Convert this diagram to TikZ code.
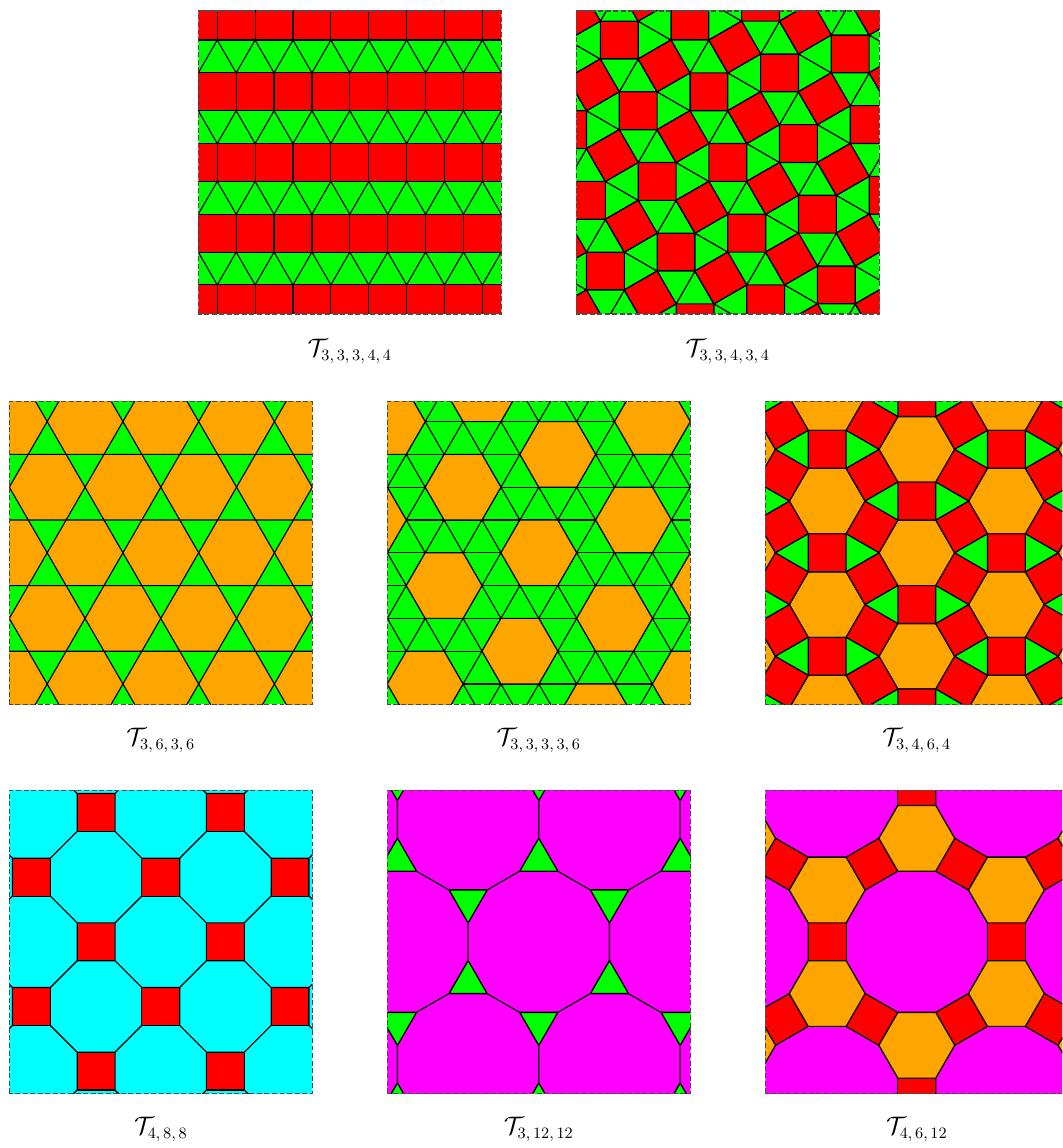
\documentclass[tikz,border=0pt]{standalone}
\usepackage{amsmath}
\definecolor{cred}{HTML}{FF0000}
\definecolor{clime}{HTML}{00FF00}
\definecolor{corange}{HTML}{FFA500}
\definecolor{ccyan}{HTML}{00FFFF}
\definecolor{cmag}{HTML}{FF00FF}
\tikzset{
  edge/.style={draw=black, line width=0.65pt, line join=round},
  sqr/.style={edge, fill=cred},
  trg/.style={edge, fill=clime},
  hexa/.style={edge, fill=corange},
  octa/.style={edge, fill=ccyan},
  dodeca/.style={edge, fill=cmag},
  frame/.style={draw=black!70, line width=0.75pt, dash pattern=on 2.8pt off 1.5pt},
  lab/.style={anchor=base, inner sep=0pt, font=\fontsize{13.5}{16}\selectfont},
}
\newcommand{\lsep}{\mkern3mu}
\newcommand{\hexpath}{(0:1) -- (60:1) -- (120:1) -- (180:1) -- (240:1) -- (300:1) -- cycle}
\newcommand{\dodpath}{(15:1.9318517) -- (45:1.9318517) -- (75:1.9318517) -- (105:1.9318517) -- (135:1.9318517) -- (165:1.9318517) -- (195:1.9318517) -- (225:1.9318517) -- (255:1.9318517) -- (285:1.9318517) -- (315:1.9318517) -- (345:1.9318517) -- cycle}
\begin{document}
\begin{tikzpicture}[x=0.02cm, y=0.02cm]
\useasboundingbox (0,0) rectangle (1062,1148);
\clip (0,0) rectangle (1062,1148);
\fill[white] (0,0) rectangle (1062,1148);

% ---------- Panel A : 3.3.3.4.4 ----------
\begin{scope}[shift={(349.8,985.5)}, scale=37.875]
  \begin{scope}
    \clip (-4,-4) rectangle (4,4);
    \foreach \k in {-3,...,3}{
      \pgfmathsetmacro\yc{\k*1.8660254}
      \fill[cred] (-5,\yc-0.5) rectangle (5,\yc+0.5);
      \fill[clime] (-5,\yc+0.5) rectangle (5,\yc+1.3660254);
    }
    \foreach \k in {-3,...,3}{
      \pgfmathsetmacro\yc{\k*1.8660254}
      \pgfmathsetmacro\off{mod(abs(\k),2)*0.5}
      \draw[edge] (-5,\yc-0.5) -- (5,\yc-0.5);
      \draw[edge] (-5,\yc+0.5) -- (5,\yc+0.5);
      \foreach \n in {-6,...,6}{
        \draw[edge] (\n+0.5+\off,\yc-0.5) -- (\n+0.5+\off,\yc+0.5);
        \draw[edge] (\n+\off,\yc+1.3660254) -- (\n+0.5+\off,\yc+0.5) -- (\n+1+\off,\yc+1.3660254);
      }
    }
  \end{scope}
  \path[frame] (-4,-4) rectangle (4,4);
\end{scope}

% ---------- Panel B : 3.3.4.3.4 ----------
\begin{scope}[shift={(727.8,985.5)}, scale=37.875]
  \begin{scope}
    \clip (-4,-4) rectangle (4,4);
    \fill[clime] (-4,-4) rectangle (4,4);
    \foreach \m in {-4,...,4}{
      \foreach \n in {-4,...,4}{
        \pgfmathsetmacro\cx{1.9318517*(\m*cos(15)-\n*sin(15))}
        \pgfmathsetmacro\cy{1.9318517*(\m*sin(15)+\n*cos(15))}
        \begin{scope}[shift={(\cx,\cy)}]
          \path[sqr] (-0.5,-0.5) rectangle (0.5,0.5);
          \foreach \r in {0,90,180,270}{
            \path[trg, rotate=\r] (-0.5,0.5) -- (0.5,0.5) -- (0,1.3660254) -- cycle;
            \path[sqr, rotate=\r] (0.5,0.5) -- (1.3660254,1) -- (0.8660254,1.8660254) -- (0,1.3660254) -- cycle;
          }
        \end{scope}
      }
    }
  \end{scope}
  \path[frame] (-4,-4) rectangle (4,4);
\end{scope}

% ---------- Panel C : 3.6.3.6 ----------
\begin{scope}[shift={(160.8,595.2)}, scale=37.875]
  \begin{scope}
    \clip (-4,-4) rectangle (4,4);
    \fill[clime] (-4,-4) rectangle (4,4);
    \foreach \i in {-5,...,5}{
      \foreach \j in {-3,...,3}{
        \path[hexa, shift={({2*\i+\j},{1.7320508*\j})}] \hexpath;
      }
    }
  \end{scope}
  \path[frame] (-4,-4) rectangle (4,4);
\end{scope}

% ---------- Panel D : 3.3.3.3.6 ----------
\begin{scope}[shift={(538.8,595.2)}, scale=37.875]
  \begin{scope}
    \clip (-4,-4) rectangle (4,4);
    \fill[clime] (-4,-4) rectangle (4,4);
    \foreach \j in {-5,...,5}{
      \draw[edge] (-5,{0.8660254*\j}) -- (5,{0.8660254*\j});
    }
    \foreach \i in {-10,...,10}{
      \draw[edge] (\i,0) ++(60:-6) -- ++(60:12);
      \draw[edge] (\i,0) ++(120:-6) -- ++(120:12);
    }
    \foreach \p in {-4,...,4}{
      \foreach \q in {-4,...,4}{
        \path[hexa, shift={({2.5*\p+0.5*\q},{0.8660254*\p+2.5980762*\q})}] \hexpath;
      }
    }
  \end{scope}
  \path[frame] (-4,-4) rectangle (4,4);
\end{scope}

% ---------- Panel E : 3.4.6.4 ----------
\begin{scope}[shift={(916.8,595.2)}, scale=37.875]
  \begin{scope}
    \clip (-4,-4) rectangle (4,4);
    \foreach \p in {-4,...,4}{
      \foreach \q in {-3,...,3}{
        \begin{scope}[shift={({2.3660254*\q},{2.7320508*\p+1.3660254*\q})}]
          \path[hexa] \hexpath;
          \foreach \r in {0,60,...,300}{
            \path[sqr, rotate=\r] (1,0) -- (0.5,0.8660254) -- (1.3660254,1.3660254) -- (1.8660254,0.5) -- cycle;
            \path[trg, rotate=\r] (1,0) -- (1.8660254,0.5) -- (1.8660254,-0.5) -- cycle;
          }
        \end{scope}
      }
    }
  \end{scope}
  \path[frame] (-4,-4) rectangle (4,4);
\end{scope}

% ---------- Panel F : 4.8.8 ----------
\begin{scope}[shift={(160.8,206.2)}, scale=37.875]
  \begin{scope}
    \clip (-4,-4) rectangle (4,4);
    \foreach \i in {-3,...,3}{
      \foreach \j in {-3,...,3}{
        \pgfmathtruncatemacro\parity{mod(abs(\i+\j),2)}
        \ifnum\parity=0
          \path[octa, shift={(1.7071068*\i,1.7071068*\j)}] (22.5:1.306563) -- (67.5:1.306563) -- (112.5:1.306563) -- (157.5:1.306563) -- (202.5:1.306563) -- (247.5:1.306563) -- (292.5:1.306563) -- (337.5:1.306563) -- cycle;
        \else
          \path[sqr, shift={(1.7071068*\i,1.7071068*\j)}] (-0.5,-0.5) rectangle (0.5,0.5);
        \fi
      }
    }
  \end{scope}
  \path[frame] (-4,-4) rectangle (4,4);
\end{scope}

% ---------- Panel G : 3.12.12 ----------
\begin{scope}[shift={(538.8,206.2)}, scale=37.875]
  \begin{scope}
    \clip (-4,-4) rectangle (4,4);
    \foreach \i in {-3,...,3}{
      \foreach \j in {-2,...,2}{
        \begin{scope}[shift={({3.7320508*\i+1.8660254*\j},{3.2320508*\j})}]
          \path[dodeca] \dodpath;
          \foreach \r in {30,90,...,330}{
            \path[trg, rotate=\r] (2.7320508,0) -- (1.8660254,0.5) -- (1.8660254,-0.5) -- cycle;
          }
        \end{scope}
      }
    }
  \end{scope}
  \path[frame] (-4,-4) rectangle (4,4);
\end{scope}

% ---------- Panel H : 4.6.12 ----------
\begin{scope}[shift={(916.8,206.2)}, scale=37.875]
  \begin{scope}
    \clip (-4,-4) rectangle (4,4);
    \foreach \i in {-3,...,3}{
      \foreach \j in {-2,...,2}{
        \begin{scope}[shift={({4.7320508*\i+2.3660254*\j},{4.0980762*\j})}]
          \path[dodeca] \dodpath;
          \foreach \r in {0,60,...,300}{
            \path[sqr, rotate=\r] (1.8660254,-0.5) rectangle (2.8660254,0.5);
          }
          \foreach \r in {30,90,...,330}{
            \path[hexa, rotate=\r] (3.5980762,0.5) -- (2.7320508,1) -- (1.8660254,0.5) -- (1.8660254,-0.5) -- (2.7320508,-1) -- (3.5980762,-0.5) -- cycle;
          }
        \end{scope}
      }
    }
  \end{scope}
  \path[frame] (-4,-4) rectangle (4,4);
\end{scope}

% ---------- Labels ----------
\node[lab] (lA) at (349.8,791.3) {$\mathcal{T}_{3,\lsep 3,\lsep 3,\lsep 4,\lsep 4}$};
\node[lab] (lB) at (727.8,791.3) {$\mathcal{T}_{3,\lsep 3,\lsep 4,\lsep 3,\lsep 4}$};
\node[lab] (lC) at (160.8,402) {$\mathcal{T}_{3,\lsep 6,\lsep 3,\lsep 6}$};
\node[lab] (lD) at (538.8,402) {$\mathcal{T}_{3,\lsep 3,\lsep 3,\lsep 3,\lsep 6}$};
\node[lab] (lE) at (916.8,402) {$\mathcal{T}_{3,\lsep 4,\lsep 6,\lsep 4}$};
\node[lab] (lF) at (160.8,13) {$\mathcal{T}_{4,\lsep 8,\lsep 8}$};
\node[lab] (lG) at (538.8,13) {$\mathcal{T}_{3,\lsep 12,\lsep 12}$};
\node[lab] (lH) at (916.8,13) {$\mathcal{T}_{4,\lsep 6,\lsep 12}$};
\end{tikzpicture}
\end{document}
